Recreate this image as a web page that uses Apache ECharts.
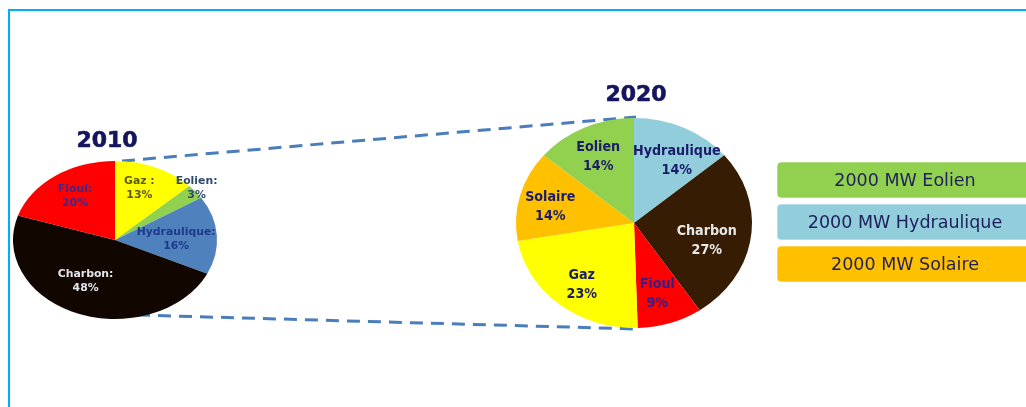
<!DOCTYPE html>
<html>
<head>
<meta charset="utf-8">
<title>Mix électrique 2010 / 2020</title>
<script src="https://cdn.jsdelivr.net/npm/echarts@6/dist/echarts.min.js"></script>
<style>
  html, body { margin: 0; padding: 0; background: #ffffff; }
  #chart { width: 1026px; height: 407px; }
</style>
</head>
<body>
<div id="chart"></div>
<script>
// --- data ---
const years = ['2010', '2020'];

const names2010 = ['Gaz :', 'Eolien:', 'Hydraulique:', 'Charbon:', 'Fioul:'];
const values2010 = [13, 3, 16, 48, 20];

const names2020 = ['Hydraulique', 'Charbon', 'Fioul', 'Gaz', 'Solaire', 'Eolien'];
const values2020 = [14, 27, 9, 23, 14, 14];

const boxLabels = ['2000 MW Eolien', '2000 MW Hydraulique', '2000 MW Solaire'];

// --- styles ---
const colors2010 = ['#FFFF00', '#92D050', '#4F81BD', '#110600', '#FF0000'];
const text2010 = ['#5A5A12', '#2E4A6B', '#1F3A8A', '#E4E4EC', '#3C2A8C'];
// small label nudges [dx, dy] in px
const nudge2010 = [[-2, -3], [1, -1], [-5, 4], [-5, -4], [-1, 0]];
const colors2020 = ['#92CDDC', '#351C02', '#FF0000', '#FFFF00', '#FFC000', '#92D050'];
const text2020 = ['#1B1B6B', '#E8E8E8', '#34208A', '#1B1B6B', '#1B1B6B', '#1B1B6B'];
const nudge2020 = [[8, 4], [-9, 7], [-2, 0], [0, 4], [-4, 2], [-1, 0]];
const boxColors = ['#92D050', '#92CDDC', '#FFC000'];

const LABEL_FONT = '"DejaVu Sans Condensed", "DejaVu Sans", sans-serif';

// pie geometry (elliptical pies: circle of radius rx squashed to ry)
const geo2010 = { cx: 115, cy: 240, rx: 102, ry: 79, labelR: 0.65, smallLabelR: 1.0, labelDy: -2,
                  fontSize: 10.5, lineHeight: 14, textScaleX: 1.15 };
const geo2020 = { cx: 634, cy: 223, rx: 118, ry: 105, labelR: 0.70, smallLabelR: 1.0, labelDy: 1,
                  fontSize: 13.5, lineHeight: 19, textScaleX: 1.05 };

function ellipsePie(names, values, colors, textColors, nudges, g) {
  const total = values.reduce((a, b) => a + b, 0);
  const starts = [];
  let acc = 0;
  values.forEach(v => { starts.push(acc); acc += v; });
  return {
    type: 'custom',
    coordinateSystem: 'none',
    silent: true,
    data: values.map((v, i) => ({ name: names[i], value: v })),
    renderItem: function (params, api) {
      const i = params.dataIndex;
      const v = api.value(0);
      const a0 = starts[i] / total * Math.PI * 2;
      const a1 = (starts[i] + v) / total * Math.PI * 2;
      const mid = (a0 + a1) / 2;
      const f = v / total < 0.05 ? g.smallLabelR : g.labelR;
      const lx = g.cx + f * g.rx * Math.sin(mid) + nudges[i][0];
      const ly = g.cy - f * g.ry * Math.cos(mid) + g.labelDy + nudges[i][1];
      return {
        type: 'group',
        children: [
          {
            type: 'sector',
            x: g.cx, y: g.cy, scaleY: g.ry / g.rx,
            shape: { cx: 0, cy: 0, r0: 0, r: g.rx,
                     startAngle: a0 - Math.PI / 2, endAngle: a1 - Math.PI / 2, clockwise: true },
            style: { fill: colors[i] }
          },
          {
            type: 'text',
            x: lx, y: ly, scaleX: g.textScaleX,
            z2: 100,
            style: {
              text: names[i] + '\n' + v + '%',
              fill: textColors[i],
              fontFamily: LABEL_FONT,
              fontWeight: 'bold',
              fontSize: g.fontSize,
              lineHeight: g.lineHeight,
              align: 'center',
              verticalAlign: 'middle'
            }
          }
        ]
      };
    }
  };
}

// legend-like boxes on the right
const boxGraphics = [];
boxLabels.forEach((t, i) => {
  const top = [162, 204, 246][i];
  boxGraphics.push({
    type: 'rect',
    shape: { x: 777, y: top, width: 262, height: 36, r: 4 },
    style: { fill: boxColors[i], stroke: 'rgba(255,255,255,0.6)', lineWidth: 1 }
  });
  boxGraphics.push({
    type: 'text',
    x: 905, y: top + 19,
    style: {
      text: t, fill: '#1F1F5A',
      fontFamily: '"DejaVu Sans", Verdana, sans-serif', fontSize: 17.5,
      align: 'center', verticalAlign: 'middle'
    }
  });
});

const dash = { stroke: '#4A7EBB', lineWidth: 3, lineDash: [13, 8] };

const option = {
  animation: false,
  backgroundColor: '#ffffff',
  graphic: [
    // frame
    { type: 'line', shape: { x1: 9, y1: 10, x2: 1030, y2: 10 }, style: { stroke: '#00B0F0', lineWidth: 2 } },
    { type: 'line', shape: { x1: 9, y1: 9, x2: 9, y2: 410 }, style: { stroke: '#00B0F0', lineWidth: 2 } },
    // connecting dashed lines
    { type: 'line', shape: { x1: 122, y1: 161, x2: 636, y2: 117 }, style: dash },
    { type: 'line', shape: { x1: 137, y1: 315, x2: 637, y2: 329 }, style: dash },
    // year titles
    { type: 'text', x: 107, y: 141, style: { text: years[0], fill: '#15155E', stroke: '#15155E', lineWidth: 0.6,
      fontFamily: '"DejaVu Sans", sans-serif', fontWeight: 'bold', fontSize: 22, align: 'center', verticalAlign: 'middle' } },
    { type: 'text', x: 636, y: 95, style: { text: years[1], fill: '#15155E', stroke: '#15155E', lineWidth: 0.6,
      fontFamily: '"DejaVu Sans", sans-serif', fontWeight: 'bold', fontSize: 22, align: 'center', verticalAlign: 'middle' } }
  ].concat(boxGraphics),
  series: [
    ellipsePie(names2010, values2010, colors2010, text2010, nudge2010, geo2010),
    ellipsePie(names2020, values2020, colors2020, text2020, nudge2020, geo2020)
  ]
};

const chart = echarts.init(document.getElementById('chart'), null, { renderer: 'canvas' });
chart.setOption(option);
</script>
</body>
</html>
